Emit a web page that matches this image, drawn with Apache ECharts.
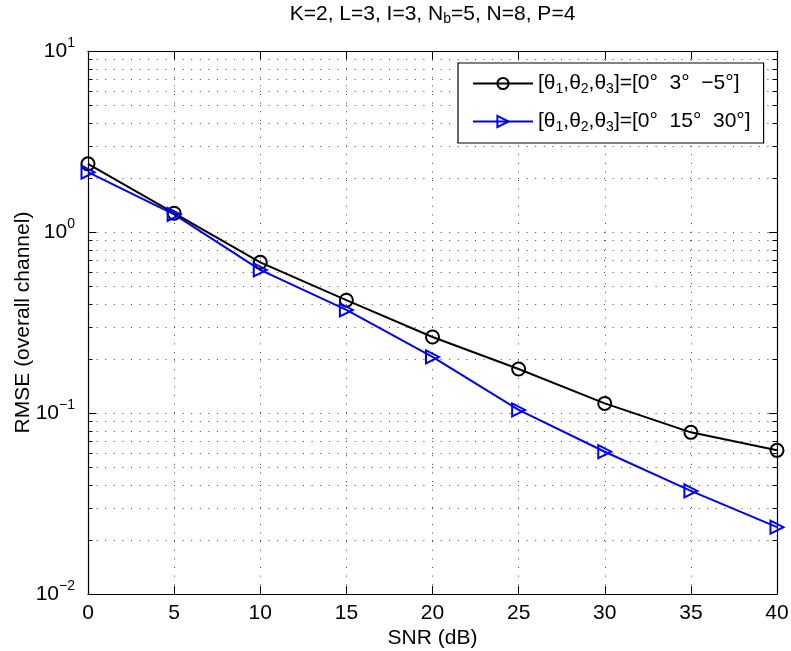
<!DOCTYPE html>
<html><head><meta charset="utf-8">
<script src="https://cdn.jsdelivr.net/npm/echarts@6/dist/echarts.min.js"></script>
<style>html,body{margin:0;padding:0;background:#fff}#c{width:791px;height:651px}</style>
</head><body><div id="c"></div>
<script>
// ---- data ----
const snr = [0, 5, 10, 15, 20, 25, 30, 35, 40];
const rmseA = [2.38, 1.27, 0.68, 0.42, 0.263, 0.175, 0.113, 0.0782, 0.0622];
const rmseB = [2.14, 1.25, 0.617, 0.371, 0.204, 0.104, 0.0611, 0.0371, 0.0234];
const seriesNames = ['[θ1,θ2,θ3]=[0°  3°  −5°]', '[θ1,θ2,θ3]=[0°  15°  30°]'];
const yTicks = [0.01, 0.1, 1, 10];
const yTickExp = ['−2', '−1', '0', '1'];
const minorMantissa = [2, 3, 4, 5, 6, 7, 8, 9];
const titleText = 'K=2, L=3, I=3, N{s|b}=5, N=8, P=4';
const xName = 'SNR (dB)';
const yName = 'RMSE (overall channel)';

// ---- derived ----
const minorY = [];
yTicks.slice(0, -1).forEach(d => minorMantissa.forEach(m => minorY.push([0, +(d * m).toPrecision(3)])));

const FONT = "'Liberation Sans', Arial, Helvetica, sans-serif";
const GL = 88, GT = 51, GR = 14, GB = 57;
const FS = 21;

const chart = echarts.init(document.getElementById('c'), null, {renderer: 'canvas'});

function expLabel(v) {
  const i = yTicks.findIndex(t => Math.abs(Math.log10(t) - Math.log10(v)) < 1e-6);
  if (i < 0) return '';
  return '{b|10}{e|' + yTickExp[i] + '}';
}
function richName(n) {
  return n.replace(/θ(\d)/g, 'θ{s|$1}');
}

const axisLineStyle = {color: '#000', width: 1.2};
const dotted = {color: '#444', width: 1, type: [1, 7.6]};

const option = {
  backgroundColor: '#fff',
  animation: false,
  textStyle: {fontFamily: FONT},
  grid: {left: GL, top: GT, right: GR, bottom: GB, containLabel: false, outerBoundsMode: 'none'},
  graphic: [{
    type: 'text', x: (GL + 791 - GR) / 2, y: 14,
    style: {
      text: titleText, align: 'center', verticalAlign: 'middle',
      fontFamily: FONT, fontSize: 21, fill: '#000',
      rich: {s: {fontFamily: FONT, fontSize: 14, padding: [11, 0, 0, 0], fill: '#000'}}
    }
  }],
  legend: {
    orient: 'vertical', left: 458, top: 63,
    data: seriesNames,
    backgroundColor: '#fff', borderColor: '#000', borderWidth: 1.2, borderRadius: 0,
    padding: [10, 13, 9, 14], itemGap: 15, itemWidth: 60, itemHeight: 14,
    formatter: richName,
    textStyle: {
      fontFamily: FONT, fontSize: FS, color: '#000',
      rich: {s: {fontFamily: FONT, fontSize: 14, padding: [11, 0, 0, 0], color: '#000'}}
    }
  },
  xAxis: [{
    type: 'value', min: 0, max: 40, interval: 5,
    name: xName, nameLocation: 'middle', nameGap: 34, nameMoveOverlap: false,
    nameTextStyle: {fontFamily: FONT, fontSize: FS, color: '#000'},
    axisLine: {show: true, onZero: false, lineStyle: axisLineStyle},
    axisTick: {inside: true, length: 8, lineStyle: {color: '#000'}},
    axisLabel: {fontFamily: FONT, fontSize: FS, color: '#000', margin: 9},
    splitLine: {show: true, lineStyle: dotted}
  }, {
    type: 'value', min: 0, max: 40, interval: 5, position: 'top',
    axisLine: {show: true, onZero: false, lineStyle: axisLineStyle},
    axisTick: {inside: true, length: 8, lineStyle: {color: '#000'}},
    axisLabel: {show: false}, splitLine: {show: false}
  }],
  yAxis: [{
    type: 'log', logBase: 10, min: 0.01, max: 10,
    name: yName, nameLocation: 'middle', nameGap: 54, nameMoveOverlap: false,
    nameTextStyle: {fontFamily: FONT, fontSize: FS, color: '#000'},
    axisLine: {show: true, onZero: false, lineStyle: axisLineStyle},
    axisTick: {inside: true, length: 8, lineStyle: {color: '#000'}},
    axisLabel: {
      formatter: expLabel, margin: 13, color: '#000',
      rich: {
        b: {fontFamily: FONT, fontSize: FS, color: '#000'},
        e: {fontFamily: FONT, fontSize: 14, color: '#000', padding: [0, 0, 15, 0]}
      }
    },
    splitLine: {show: true, lineStyle: dotted}
  }, {
    type: 'log', logBase: 10, min: 0.01, max: 10, position: 'right',
    axisLine: {show: true, onZero: false, lineStyle: axisLineStyle},
    axisTick: {inside: true, length: 8, lineStyle: {color: '#000'}},
    axisLabel: {show: false}, splitLine: {show: false}
  }],
  series: [{
    type: 'custom', name: 'minorGrid', silent: true, z: 1,
    xAxisIndex: 0, yAxisIndex: 0, clip: false,
    data: minorY,
    renderItem: function (params, api) {
      const cs = params.coordSys;
      const y = Math.round(api.coord([0, api.value(1)])[1]) + 0.5;
      return {
        type: 'group', children: [
          {type: 'line', shape: {x1: cs.x, y1: y, x2: cs.x + cs.width, y2: y},
            style: {stroke: '#444', lineWidth: 1, lineDash: [1, 7.6]}},
          {type: 'line', shape: {x1: cs.x, y1: y, x2: cs.x + 4.5, y2: y},
            style: {stroke: '#000', lineWidth: 1}},
          {type: 'line', shape: {x1: cs.x + cs.width - 4.5, y1: y, x2: cs.x + cs.width, y2: y},
            style: {stroke: '#000', lineWidth: 1}}
        ]
      };
    }
  }, {
    type: 'line', name: seriesNames[0], z: 3,
    data: snr.map((x, i) => [x, rmseA[i]]),
    symbol: 'circle', symbolSize: 13,
    lineStyle: {color: '#000', width: 2},
    itemStyle: {color: 'rgba(255,255,255,0)', borderColor: '#000', borderWidth: 2}
  }, {
    type: 'line', name: seriesNames[1], z: 3,
    data: snr.map((x, i) => [x, rmseB[i]]),
    symbol: 'path://M0,0 L12,6 L0,12 Z', symbolSize: 13,
    lineStyle: {color: '#0000ff', width: 2},
    itemStyle: {color: 'rgba(255,255,255,0)', borderColor: '#0000ff', borderWidth: 2}
  }]
};
chart.setOption(option);
</script>
</body></html>
